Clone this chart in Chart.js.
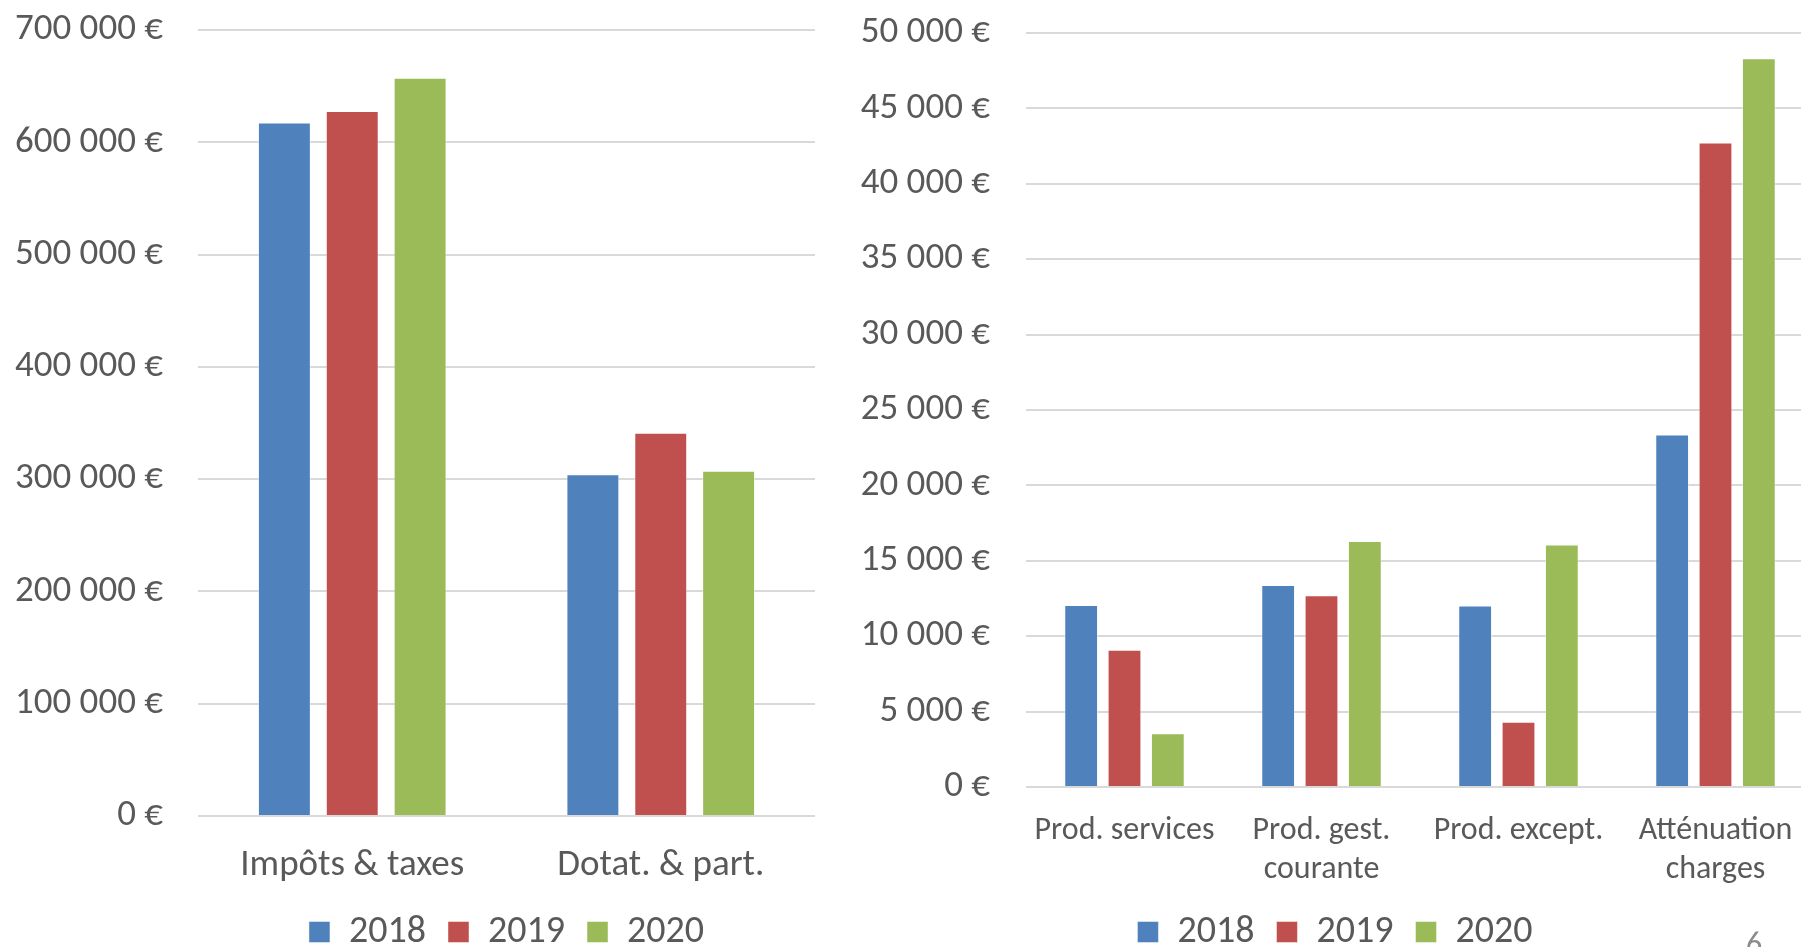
<!DOCTYPE html>
<html lang="fr">
<head>
<meta charset="utf-8">
<title>Recettes de fonctionnement</title>
<script src="https://cdn.jsdelivr.net/npm/chart.js@4/dist/chart.umd.min.js"></script>
<style>
  html, body {
    margin: 0;
    padding: 0;
    width: 1801px;
    height: 947px;
    overflow: hidden;
    background: #fff;
  }
  #leftChart {
    position: absolute;
    left: 0;
    top: 0;
  }
  #rightChart {
    position: absolute;
    left: 850px;
    top: 0;
  }
  #pageNum {
    position: absolute;
    left: 1746px;
    top: 928px;
    font-family: Carlito, Lato, sans-serif;
    font-size: 32px;
    line-height: 1;
    color: #8c8c8c;
  }
</style>
</head>
<body>
<canvas id="leftChart" width="830" height="961"></canvas>
<canvas id="rightChart" width="1000" height="961"></canvas>
<div id="pageNum">6</div>

<script>
//------------------Data------------------
const years = ['2018', '2019', '2020'];
const colors = ['#4F81BD', '#C0504D', '#9BBB59'];

const bigCategories = ['Impôts & taxes', 'Dotat. & part.'];
const big2018 = [617700, 304300];
const big2019 = [627900, 341400];
const big2020 = [657500, 307500];
const bigMax = 700000;
const bigStep = 100000;

const smallCategories = ['Prod. services', ['Prod. gest.', 'courante'], 'Prod. except.', ['Atténuation', 'charges']];
const small2018 = [12070, 13390, 12030, 23380];
const small2019 = [9100, 12710, 4330, 42740];
const small2020 = [3570, 16320, 16080, 48320];
const smallMax = 50000;
const smallStep = 5000;

//------------------Helpers------------------
const textColor = '#595959';
const gridColor = '#d9d9d9';
const fontFamily = 'Carlito, Lato, sans-serif';

// "700 000 €" style labels
const euro = (value) => String(value).replace(/\B(?=(\d{3})+(?!\d))/g, ' ') + ' €';

const makeDatasets = (series) => series.map((values, i) => ({
  label: years[i],
  data: values,
  backgroundColor: colors[i],
  borderColor: 'rgba(255,255,255,0.45)',
  borderWidth: 1,
  barPercentage: 0.78,
  categoryPercentage: 0.66,
}));

const makeOptions = (max, step, o) => ({
  responsive: false,
  animation: false,
  layout: {
    padding: { top: o.top, right: o.right, bottom: 0, left: o.left },
  },
  plugins: {
    tooltip: { enabled: false },
    legend: {
      position: 'bottom',
      fullSize: o.legendFull,
      labels: {
        color: textColor,
        font: { family: fontFamily, size: 38 },
        boxWidth: 21,
        boxHeight: 21,
        padding: 22,
      },
    },
  },
  scales: {
    x: {
      grid: { display: false, drawTicks: false },
      border: { display: false },
      ticks: {
        color: textColor,
        font: { family: fontFamily, size: o.xSize, lineHeight: o.xLine },
        padding: o.xPad,
        maxRotation: 0,
        autoSkip: false,
      },
      afterFit: (scale) => {
        scale.height = o.xHeight;
        scale.paddingLeft = 0;
        scale.paddingRight = 0;
      },
    },
    y: {
      min: 0,
      max: max,
      grid: { color: gridColor, lineWidth: 2, drawTicks: false },
      border: { display: false },
      ticks: {
        stepSize: step,
        color: textColor,
        font: { family: fontFamily, size: 37 },
        padding: o.yPad,
        callback: (value) => euro(value),
      },
      // tick padding would otherwise be added above the plot
      afterFit: (scale) => {
        scale.width = o.yWidth;
        scale.paddingTop = 0;
        scale.paddingBottom = 0;
      },
    },
  },
});

//------------------Left chart------------------
new Chart(document.getElementById('leftChart'), {
  type: 'bar',
  data: {
    labels: bigCategories,
    datasets: makeDatasets([big2018, big2019, big2020]),
  },
  options: makeOptions(bigMax, bigStep, {
    top: 30, right: 15, left: 0, yWidth: 198, yPad: 35,
    xHeight: 75, xPad: 28, xSize: 37, xLine: 1.2, legendFull: false,
  }),
});

//------------------Right chart------------------
new Chart(document.getElementById('rightChart'), {
  type: 'bar',
  data: {
    labels: smallCategories,
    datasets: makeDatasets([small2018, small2019, small2020]),
  },
  options: makeOptions(smallMax, smallStep, {
    top: 33, right: 36, left: 6, yWidth: 170, yPad: 36,
    xHeight: 104, xPad: 24, xSize: 32, xLine: 1.22, legendFull: true,
  }),
});
</script>
</body>
</html>
